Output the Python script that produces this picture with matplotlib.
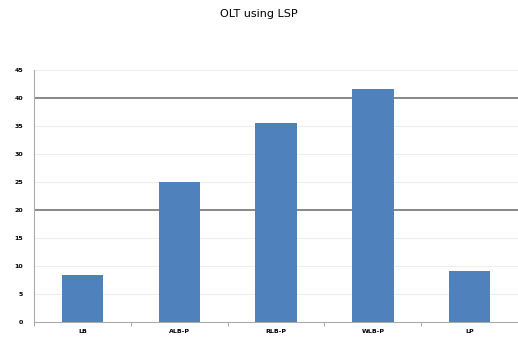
import matplotlib.pyplot as plt
import numpy as np

categories = ["LB", "ALB-P", "RLB-P", "WLB-P", "LP"]
values = [8.4, 25.0, 35.5, 41.6, 9.1]
y_ticks = [0, 5, 10, 15, 20, 25, 30, 35, 40, 45]
major_grid = [20, 40]

fig = plt.figure(figsize=(5.18, 3.52), dpi=100)
ax = fig.add_axes([0.066, 0.085, 0.934, 0.716])

x = np.arange(len(categories))
ax.bar(x, values, width=0.43, color="#4F81BD", zorder=3)

# faint lines at every tick, darker ones at 20 and 40
for t in y_ticks[1:]:
    ax.axhline(t, color="#eeeeee", linewidth=0.8, zorder=1)
for t in major_grid:
    ax.axhline(t, color="#888888", linewidth=1.4, zorder=2)

ax.set_xlim(-0.5, len(categories) - 0.5)
ax.set_ylim(0, 45)
ax.set_yticks(y_ticks)
ax.set_yticklabels([str(t) for t in y_ticks], fontsize=4.5, fontweight="bold")
ax.set_xticks(x)
ax.set_xticklabels(categories, fontsize=4.5, fontweight="bold")
ax.set_xticks(np.arange(len(categories) + 1) - 0.5, minor=True)
ax.tick_params(axis="x", which="major", length=0, pad=5)
ax.tick_params(axis="x", which="minor", length=3, color="#999999")
ax.tick_params(axis="y", length=0, pad=8)

for side in ["top", "right"]:
    ax.spines[side].set_visible(False)
ax.spines["left"].set_color("#aaaaaa")
ax.spines["bottom"].set_color("#aaaaaa")

fig.text(0.5, 0.96, "OLT using LSP", ha="center", va="center", fontsize=8)

fig.savefig("out.png", dpi=100)
